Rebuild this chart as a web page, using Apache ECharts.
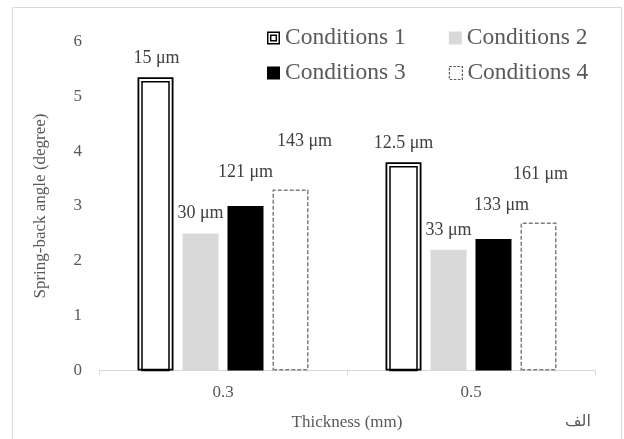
<!DOCTYPE html>
<html>
<head>
<meta charset="utf-8">
<script src="https://cdn.jsdelivr.net/npm/echarts@6/dist/echarts.min.js"></script>
<style>
html, body { margin: 0; padding: 0; background: #fff; }
#chart { width: 624px; height: 439px; }
</style>
</head>
<body>
<div id="chart"></div>
<script>
// data
const thickness = ['0.3', '0.5'];
const yTicks = [0, 1, 2, 3, 4, 5, 6];
const cond1 = [5.35, 3.8];
const cond2 = [2.5, 2.2];
const cond3 = [3.0, 2.4];
const cond4 = [3.3, 2.7];
const cond1Text = ['15 μm', '12.5 μm'];
const cond2Text = ['30 μm', '33 μm'];
const cond3Text = ['121 μm', '133 μm'];
const cond4Text = ['143 μm', '161 μm'];

// layout tweaks
const BAR_W = 36;
const BAR_GAP = 9;
const SERIF = 'Liberation Serif';
const nudge1 = [[1, 0], [0, 0]];
const nudge2 = [[0, 0], [0, 0]];
const nudge3 = [[0, 0], [8, 0]];
const nudge4 = [[14, 0], [2, 0]];

const doubleSquare = 'path://M0,0L14,0L14,14L0,14Z M1.6,1.6L1.6,12.4L12.4,12.4L12.4,1.6Z M3.2,3.2L10.8,3.2L10.8,10.8L3.2,10.8Z M4.8,4.8L4.8,9.2L9.2,9.2L9.2,4.8Z';

function items(values, nudges) {
  return values.map((v, i) => ({ value: v, label: { offset: nudges[i] } }));
}
function barLabel(texts, dist) {
  return {
    show: true, position: 'top', distance: dist,
    formatter: p => texts[p.dataIndex],
    fontFamily: SERIF, fontSize: 18, color: '#404040'
  };
}
function legendRow(top, entries) {
  return {
    left: 267, top: top, padding: 0, itemGap: 43, itemWidth: 13, itemHeight: 13,
    textStyle: { fontFamily: SERIF, fontSize: 23.5, color: '#595959' },
    data: entries
  };
}

const chart = echarts.init(document.getElementById('chart'));

chart.setOption({
  animation: false,
  textStyle: { fontFamily: SERIF },
  graphic: [
    { type: 'rect', shape: { x: 12.5, y: 7.5, width: 609, height: 450 },
      style: { fill: 'none', stroke: '#d9d9d9', lineWidth: 1 }, silent: true },
    { type: 'text', left: 565, top: 414,
      style: { text: 'الف', font: '16px "DejaVu Sans", "Noto Sans", sans-serif', fill: '#595959' } }
  ],
  legend: [
    legendRow(26, [
      { name: 'Conditions 1', icon: doubleSquare, itemStyle: { color: '#000', borderWidth: 0 } },
      { name: 'Conditions 2', icon: 'rect' }
    ]),
    legendRow(61, [
      { name: 'Conditions 3', icon: 'rect' },
      { name: 'Conditions 4', icon: 'rect',
        itemStyle: { color: '#fff', borderColor: '#595959', borderWidth: 1.2, borderType: [2.5, 1.5] } }
    ])
  ],
  grid: { left: 99, right: 29, top: 41.5, bottom: 68.5 },
  xAxis: {
    type: 'category', data: thickness,
    name: 'Thickness (mm)', nameLocation: 'middle', nameGap: 44,
    nameTextStyle: { fontFamily: SERIF, fontSize: 17, color: '#595959' },
    axisLine: { lineStyle: { color: '#d9d9d9', width: 1 } },
    axisTick: { show: true, length: 5, lineStyle: { color: '#d9d9d9' } },
    axisLabel: { fontFamily: SERIF, fontSize: 17, color: '#595959', margin: 14 }
  },
  yAxis: {
    type: 'value', min: yTicks[0], max: yTicks[yTicks.length - 1], interval: 1,
    name: 'Spring-back angle (degree)', nameLocation: 'middle', nameGap: 50,
    nameTextStyle: { fontFamily: SERIF, fontSize: 17, color: '#595959' },
    axisLine: { show: false }, axisTick: { show: false }, splitLine: { show: false },
    axisLabel: { fontFamily: SERIF, fontSize: 17, color: '#595959', margin: 17 }
  },
  series: [
    { name: 'Conditions 1', type: 'bar', barWidth: BAR_W, barGap: (BAR_GAP / BAR_W * 100) + '%',
      data: items(cond1, nudge1),
      itemStyle: { color: '#fff', borderColor: '#000', borderWidth: 1.8 },
      label: barLabel(cond1Text, 10) },
    { name: 'Conditions 2', type: 'bar', barWidth: BAR_W, barGap: (BAR_GAP / BAR_W * 100) + '%',
      data: items(cond2, nudge2),
      itemStyle: { color: '#d9d9d9' },
      label: barLabel(cond2Text, 11) },
    { name: 'Conditions 3', type: 'bar', barWidth: BAR_W, barGap: (BAR_GAP / BAR_W * 100) + '%',
      data: items(cond3, nudge3),
      itemStyle: { color: '#000' },
      label: barLabel(cond3Text, 25) },
    { name: 'Conditions 4', type: 'bar', barWidth: BAR_W, barGap: (BAR_GAP / BAR_W * 100) + '%',
      data: items(cond4, nudge4),
      itemStyle: { color: '#fff', borderColor: '#7f7f7f', borderWidth: 1.5, borderType: [4, 2] },
      label: barLabel(cond4Text, 39) },
    // inner line of the double border on Conditions 1
    { name: 'c1-inner', type: 'custom', z: 5, silent: true,
      data: cond1.map((v, i) => [i, v]),
      renderItem: (params, api) => {
        const top = api.coord([api.value(0), api.value(1)]);
        const base = api.coord([api.value(0), 0]);
        const groupW = 4 * BAR_W + 3 * BAR_GAP;
        const cx = top[0] - groupW / 2 + BAR_W / 2;
        const inset = 4.5;
        return {
          type: 'rect',
          shape: { x: cx - BAR_W / 2 + inset, y: top[1] + inset,
                   width: BAR_W - 2 * inset, height: base[1] - top[1] - inset },
          style: { fill: 'none', stroke: '#000', lineWidth: 1.5 }
        };
      } }
  ]
});
</script>
</body>
</html>
